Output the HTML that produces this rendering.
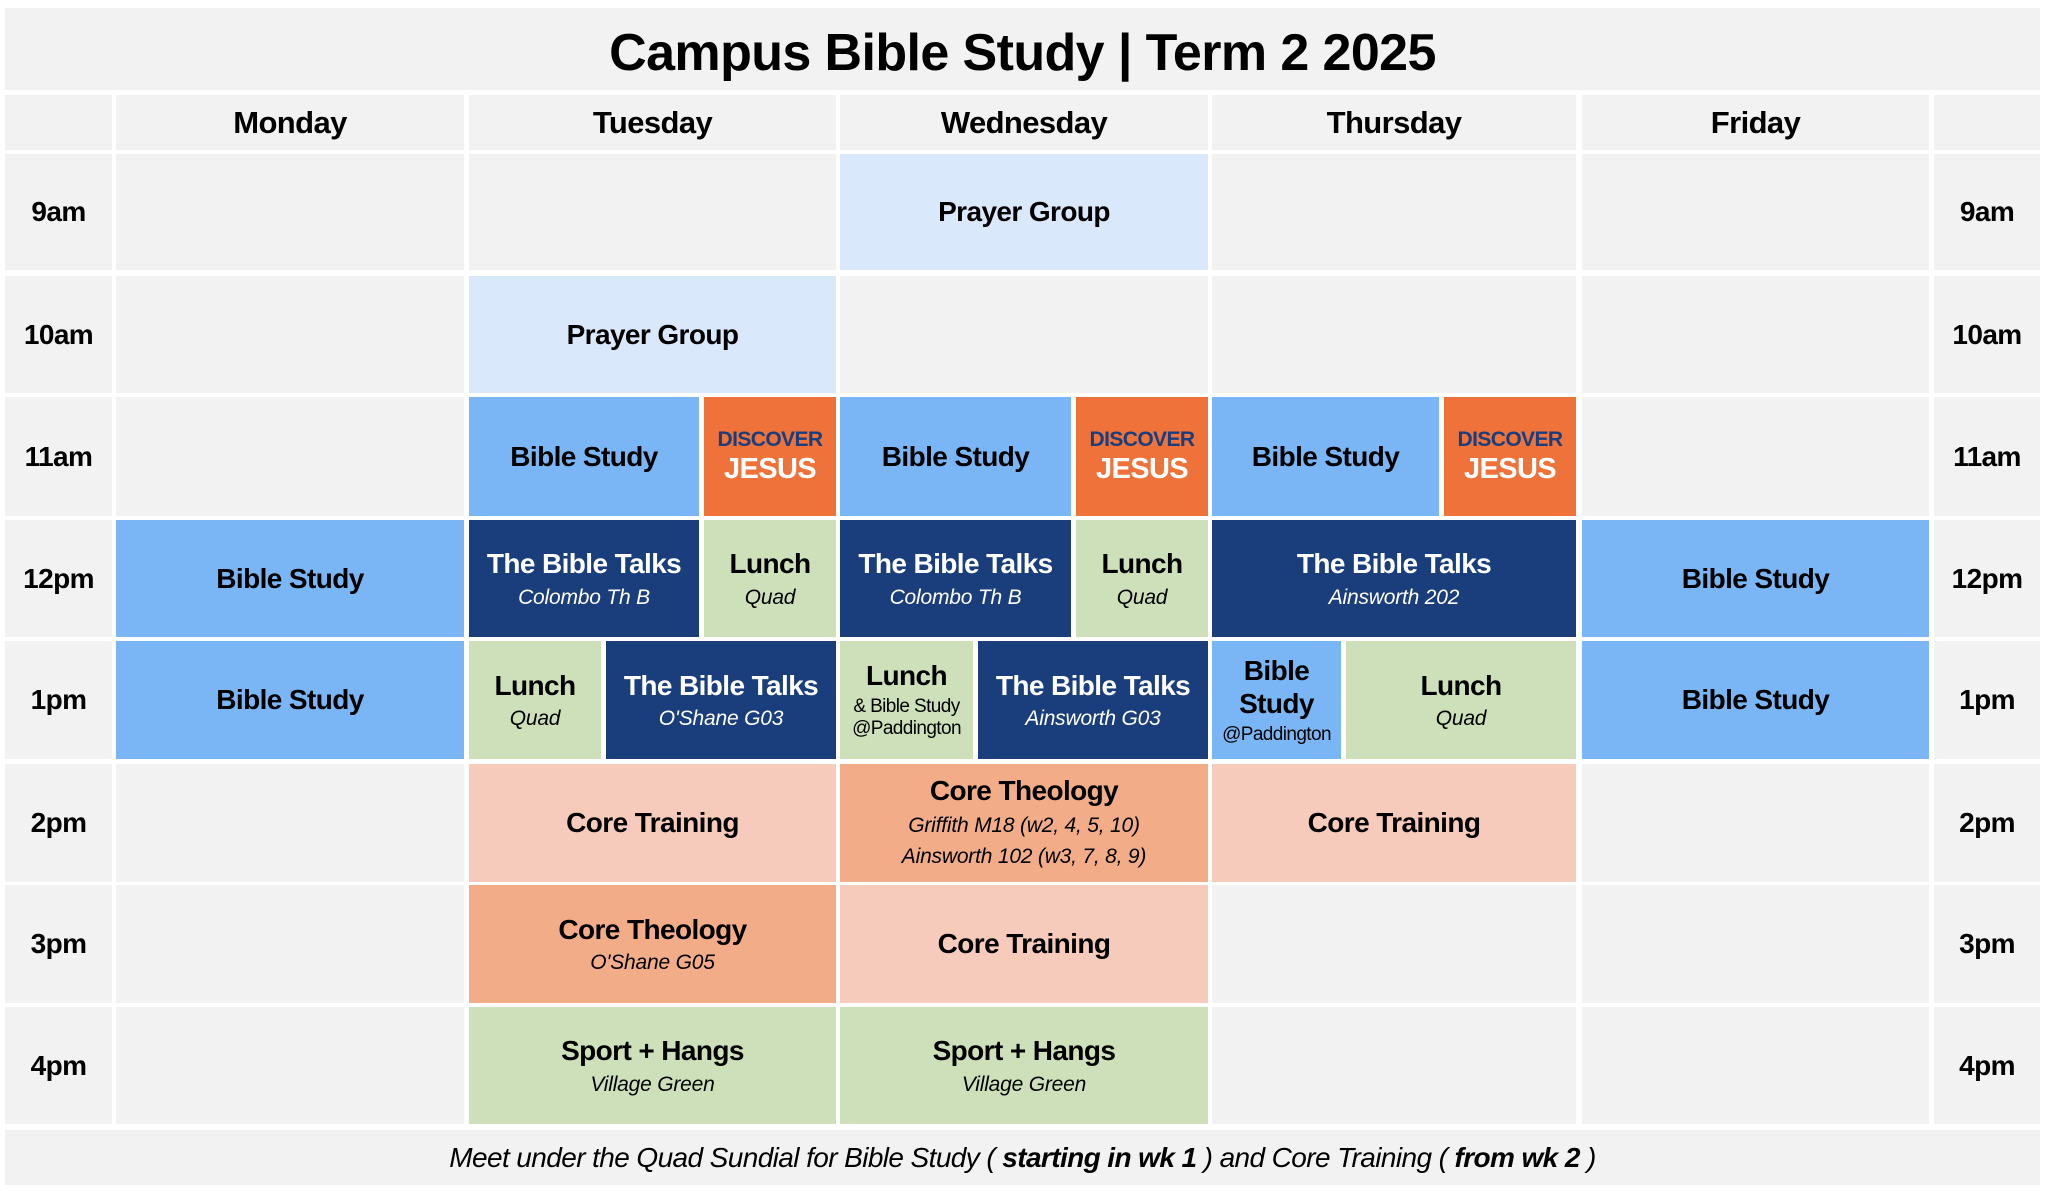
<!DOCTYPE html>
<html><head><meta charset="utf-8"><style>
body{margin:0;width:2048px;height:1191px;background:#fff;position:relative;overflow:hidden;font-family:"Liberation Sans",sans-serif;}
.c{position:absolute;background:#f2f2f2;display:flex;flex-direction:column;align-items:center;justify-content:center;text-align:center;font-weight:bold;font-size:28px;color:#000;letter-spacing:-0.6px;line-height:1.2;}
.h{font-size:31px}
.i{font-style:italic;font-weight:normal;font-size:21px;letter-spacing:-0.2px;margin-top:4px}
.lb{background:#dae8fc}.mb{background:#7ab6f5}.nv{background:#1a3d7c;color:#fff}.or{background:#ee7239;color:#fff}.gr{background:#cde0b9}.sl{background:#f7cbbb}.sd{background:#f2ad88}
.d1{color:#1a3d7c;font-size:21px}.d2{font-size:29px}
</style></head><body>
<div class="c" style="left:5px;top:8px;width:2035px;height:82px;font-size:52px;padding-top:8px;box-sizing:border-box">Campus Bible Study | Term 2 2025</div>
<!-- header -->
<div class="c" style="left:5px;top:95px;width:107px;height:55px"></div>
<div class="c h" style="left:116px;top:95px;width:348px;height:55px">Monday</div>
<div class="c h" style="left:469px;top:95px;width:367px;height:55px">Tuesday</div>
<div class="c h" style="left:840px;top:95px;width:368px;height:55px">Wednesday</div>
<div class="c h" style="left:1212px;top:95px;width:364px;height:55px">Thursday</div>
<div class="c h" style="left:1582px;top:95px;width:347px;height:55px">Friday</div>
<div class="c" style="left:1934px;top:95px;width:106px;height:55px"></div>
<!-- time labels -->
<div class="c" style="left:5px;top:154px;width:107px;height:116px">9am</div><div class="c" style="left:1934px;top:154px;width:106px;height:116px">9am</div>
<div class="c" style="left:5px;top:276px;width:107px;height:117px">10am</div><div class="c" style="left:1934px;top:276px;width:106px;height:117px">10am</div>
<div class="c" style="left:5px;top:397px;width:107px;height:119px">11am</div><div class="c" style="left:1934px;top:397px;width:106px;height:119px">11am</div>
<div class="c" style="left:5px;top:520px;width:107px;height:117px">12pm</div><div class="c" style="left:1934px;top:520px;width:106px;height:117px">12pm</div>
<div class="c" style="left:5px;top:641px;width:107px;height:118px">1pm</div><div class="c" style="left:1934px;top:641px;width:106px;height:118px">1pm</div>
<div class="c" style="left:5px;top:764px;width:107px;height:118px">2pm</div><div class="c" style="left:1934px;top:764px;width:106px;height:118px">2pm</div>
<div class="c" style="left:5px;top:885px;width:107px;height:118px">3pm</div><div class="c" style="left:1934px;top:885px;width:106px;height:118px">3pm</div>
<div class="c" style="left:5px;top:1007px;width:107px;height:117px">4pm</div><div class="c" style="left:1934px;top:1007px;width:106px;height:117px">4pm</div>
<!-- 9am -->
<div class="c" style="left:116px;top:154px;width:348px;height:116px"></div>
<div class="c" style="left:469px;top:154px;width:367px;height:116px"></div>
<div class="c lb" style="left:840px;top:154px;width:368px;height:116px">Prayer Group</div>
<div class="c" style="left:1212px;top:154px;width:364px;height:116px"></div>
<div class="c" style="left:1582px;top:154px;width:347px;height:116px"></div>
<!-- 10am -->
<div class="c" style="left:116px;top:276px;width:348px;height:117px"></div>
<div class="c lb" style="left:469px;top:276px;width:367px;height:117px">Prayer Group</div>
<div class="c" style="left:840px;top:276px;width:368px;height:117px"></div>
<div class="c" style="left:1212px;top:276px;width:364px;height:117px"></div>
<div class="c" style="left:1582px;top:276px;width:347px;height:117px"></div>
<!-- 11am -->
<div class="c" style="left:116px;top:397px;width:348px;height:119px"></div>
<div class="c mb" style="left:469px;top:397px;width:230px;height:119px">Bible Study</div>
<div class="c or" style="left:704px;top:397px;width:132px;height:119px"><span class="d1">DISCOVER</span><span class="d2">JESUS</span></div>
<div class="c mb" style="left:840px;top:397px;width:231px;height:119px">Bible Study</div>
<div class="c or" style="left:1076px;top:397px;width:132px;height:119px"><span class="d1">DISCOVER</span><span class="d2">JESUS</span></div>
<div class="c mb" style="left:1212px;top:397px;width:227px;height:119px">Bible Study</div>
<div class="c or" style="left:1444px;top:397px;width:132px;height:119px"><span class="d1">DISCOVER</span><span class="d2">JESUS</span></div>
<div class="c" style="left:1582px;top:397px;width:347px;height:119px"></div>
<!-- 12pm -->
<div class="c mb" style="left:116px;top:520px;width:348px;height:117px">Bible Study</div>
<div class="c nv" style="left:469px;top:520px;width:230px;height:117px">The Bible Talks<span class="i">Colombo Th B</span></div>
<div class="c gr" style="left:704px;top:520px;width:132px;height:117px">Lunch<span class="i">Quad</span></div>
<div class="c nv" style="left:840px;top:520px;width:231px;height:117px">The Bible Talks<span class="i">Colombo Th B</span></div>
<div class="c gr" style="left:1076px;top:520px;width:132px;height:117px">Lunch<span class="i">Quad</span></div>
<div class="c nv" style="left:1212px;top:520px;width:364px;height:117px">The Bible Talks<span class="i">Ainsworth 202</span></div>
<div class="c mb" style="left:1582px;top:520px;width:347px;height:117px">Bible Study</div>
<!-- 1pm -->
<div class="c mb" style="left:116px;top:641px;width:348px;height:118px">Bible Study</div>
<div class="c gr" style="left:469px;top:641px;width:132px;height:118px">Lunch<span class="i">Quad</span></div>
<div class="c nv" style="left:606px;top:641px;width:230px;height:118px">The Bible Talks<span class="i">O'Shane G03</span></div>
<div class="c gr" style="left:840px;top:641px;width:133px;height:118px">Lunch<span style="font-weight:normal;font-size:19px;margin-top:3px">&amp; Bible Study<br>@Paddington</span></div>
<div class="c nv" style="left:978px;top:641px;width:230px;height:118px">The Bible Talks<span class="i">Ainsworth G03</span></div>
<div class="c mb" style="left:1212px;top:641px;width:129px;height:118px">Bible<br>Study<span style="font-weight:normal;font-size:19px;margin-top:3px">@Paddington</span></div>
<div class="c gr" style="left:1346px;top:641px;width:230px;height:118px">Lunch<span class="i">Quad</span></div>
<div class="c mb" style="left:1582px;top:641px;width:347px;height:118px">Bible Study</div>
<!-- 2pm -->
<div class="c" style="left:116px;top:764px;width:348px;height:118px"></div>
<div class="c sl" style="left:469px;top:764px;width:367px;height:118px">Core Training</div>
<div class="c sd" style="left:840px;top:764px;width:368px;height:118px">Core Theology<span class="i" style="line-height:1.45">Griffith M18 (w2, 4, 5, 10)<br>Ainsworth 102 (w3, 7, 8, 9)</span></div>
<div class="c sl" style="left:1212px;top:764px;width:364px;height:118px">Core Training</div>
<div class="c" style="left:1582px;top:764px;width:347px;height:118px"></div>
<!-- 3pm -->
<div class="c" style="left:116px;top:885px;width:348px;height:118px"></div>
<div class="c sd" style="left:469px;top:885px;width:367px;height:118px">Core Theology<span class="i">O'Shane G05</span></div>
<div class="c sl" style="left:840px;top:885px;width:368px;height:118px">Core Training</div>
<div class="c" style="left:1212px;top:885px;width:364px;height:118px"></div>
<div class="c" style="left:1582px;top:885px;width:347px;height:118px"></div>
<!-- 4pm -->
<div class="c" style="left:116px;top:1007px;width:348px;height:117px"></div>
<div class="c gr" style="left:469px;top:1007px;width:367px;height:117px">Sport + Hangs<span class="i">Village Green</span></div>
<div class="c gr" style="left:840px;top:1007px;width:368px;height:117px">Sport + Hangs<span class="i">Village Green</span></div>
<div class="c" style="left:1212px;top:1007px;width:364px;height:117px"></div>
<div class="c" style="left:1582px;top:1007px;width:347px;height:117px"></div>
<!-- footer -->
<div class="c" style="left:5px;top:1130px;width:2035px;height:55px;font-weight:normal;font-style:italic;font-size:28px;display:block;line-height:55px">Meet under the Quad Sundial for Bible Study ( <b>starting in wk 1</b> ) and Core Training ( <b>from wk 2</b> )</div>
</body></html>
